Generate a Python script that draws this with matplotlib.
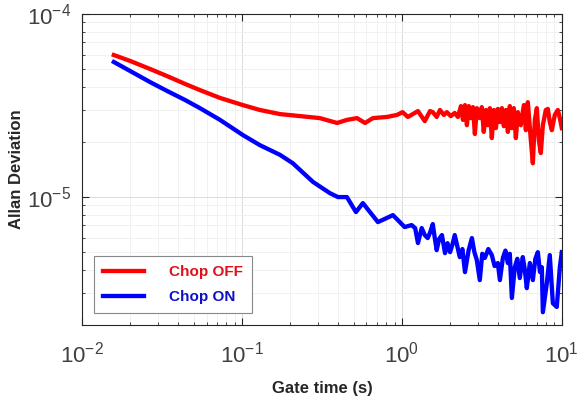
import numpy as np
import matplotlib
matplotlib.use("Agg")
import matplotlib.pyplot as plt
from matplotlib.ticker import LogLocator, NullFormatter

plt.rcParams['font.family'] = ['Liberation Sans', 'DejaVu Sans']
plt.rcParams['mathtext.fontset'] = 'custom'
plt.rcParams['mathtext.rm'] = 'Liberation Sans'
plt.rcParams['mathtext.it'] = 'Liberation Sans:italic'
plt.rcParams['mathtext.bf'] = 'Liberation Sans:bold'

# gate time (s) / Allan deviation
tau_off = [0.0158, 0.0200, 0.0266, 0.034, 0.0441, 0.0546, 0.0729, 0.1014, 0.1296, 0.173,
           0.230, 0.307, 0.393, 0.453, 0.524, 0.588, 0.659, 0.806, 0.931, 1.01,
           1.09, 1.26, 1.39, 1.50, 1.56, 1.65, 1.73, 1.83, 1.91, 2.02,
           2.14, 2.24, 2.34, 2.41, 2.48, 2.55, 2.62, 2.70, 2.78, 2.86,
           2.94, 3.07, 3.16, 3.25, 3.35, 3.45, 3.55, 3.65, 3.76, 3.87,
           3.98, 4.10, 4.22, 4.34, 4.47, 4.60, 4.73, 4.87, 5.01, 5.16,
           5.31, 5.54, 5.79, 5.96, 6.13, 6.40, 6.59, 6.78, 6.98, 7.18,
           7.39, 7.61, 7.94, 8.18, 8.41, 8.66, 9.04, 9.44, 9.72, 10.0]
adev_off = [5.97e-5, 5.54e-5, 5.01e-5, 4.58e-5, 4.15e-5, 3.84e-5, 3.48e-5, 3.18e-5, 2.99e-5, 2.84e-5,
            2.77e-5, 2.70e-5, 2.54e-5, 2.64e-5, 2.70e-5, 2.54e-5, 2.70e-5, 2.74e-5, 2.81e-5, 2.91e-5,
            2.74e-5, 2.95e-5, 2.60e-5, 2.95e-5, 2.91e-5, 2.74e-5, 2.99e-5, 2.81e-5, 2.91e-5, 2.77e-5,
            2.88e-5, 2.74e-5, 3.14e-5, 2.64e-5, 3.18e-5, 2.47e-5, 3.14e-5, 2.70e-5, 3.10e-5, 2.21e-5,
            3.06e-5, 2.70e-5, 3.10e-5, 2.27e-5, 2.99e-5, 2.47e-5, 3.06e-5, 2.10e-5, 2.99e-5, 2.38e-5,
            3.03e-5, 2.57e-5, 3.06e-5, 2.44e-5, 2.99e-5, 2.27e-5, 3.14e-5, 2.38e-5, 3.06e-5, 2.10e-5,
            2.91e-5, 2.47e-5, 3.18e-5, 2.32e-5, 3.30e-5, 2.05e-5, 1.53e-5, 2.64e-5, 3.06e-5, 2.05e-5,
            1.74e-5, 2.47e-5, 2.99e-5, 3.03e-5, 2.57e-5, 2.32e-5, 2.81e-5, 2.99e-5, 2.70e-5, 2.38e-5]

tau_on = [0.0158, 0.0200, 0.0266, 0.034, 0.0441, 0.0546, 0.0729, 0.1014, 0.1296, 0.173,
          0.208, 0.230, 0.278, 0.355, 0.398, 0.453, 0.516, 0.570, 0.708, 0.879,
          1.04, 1.15, 1.21, 1.26, 1.33, 1.39, 1.45, 1.50, 1.56, 1.60,
          1.65, 1.71, 1.78, 1.86, 1.93, 2.00, 2.07, 2.14, 2.22, 2.30,
          2.39, 2.48, 2.61, 2.74, 2.84, 2.94, 3.07, 3.18, 3.30, 3.47,
          3.65, 3.80, 3.98, 4.10, 4.28, 4.44, 4.60, 4.73, 4.87, 5.08,
          5.27, 5.46, 5.70, 5.87, 6.04, 6.31, 6.59, 6.83, 7.08, 7.30,
          7.50, 7.61, 8.06, 8.41, 8.79, 9.30, 9.72, 10.0]
adev_on = [5.47e-5, 4.88e-5, 4.25e-5, 3.80e-5, 3.39e-5, 3.06e-5, 2.64e-5, 2.18e-5, 1.92e-5, 1.70e-5,
           1.53e-5, 1.41e-5, 1.21e-5, 1.05e-5, 1.00e-5, 1.00e-5, 8.28e-6, 9.27e-6, 7.30e-6, 7.97e-6,
           6.86e-6, 7.03e-6, 6.77e-6, 5.61e-6, 6.77e-6, 6.20e-6, 5.97e-6, 6.40e-6, 7.12e-6, 6.10e-6,
           5.13e-6, 5.90e-6, 6.20e-6, 4.94e-6, 5.60e-6, 5.00e-6, 5.50e-6, 6.20e-6, 5.40e-6, 4.70e-6,
           5.20e-6, 3.89e-6, 5.10e-6, 5.97e-6, 5.00e-6, 4.53e-6, 3.52e-6, 4.90e-6, 4.65e-6, 5.20e-6,
           4.82e-6, 4.20e-6, 4.36e-6, 3.52e-6, 4.65e-6, 5.10e-6, 4.36e-6, 4.90e-6, 2.81e-6, 4.14e-6,
           4.60e-6, 3.61e-6, 4.70e-6, 4.00e-6, 3.18e-6, 4.36e-6, 3.52e-6, 4.60e-6, 5.00e-6, 3.90e-6,
           4.14e-6, 2.35e-6, 3.39e-6, 4.82e-6, 2.63e-6, 2.51e-6, 4.14e-6, 5.00e-6]

fig = plt.figure(figsize=(5.78, 4.03), dpi=100)
ax = fig.add_axes([0.142, 0.1935, 0.830, 0.7717])

ax.loglog(tau_off, adev_off, color='#ff0000', lw=3.1, label='Chop OFF')
ax.loglog(tau_on, adev_on, color='#0000ff', lw=3.1, label='Chop ON')

ax.set_xlim(1e-2, 1e1)
ax.set_ylim(2e-6, 1e-4)

ax.xaxis.set_major_locator(LogLocator(base=10, numticks=10))
ax.xaxis.set_minor_locator(LogLocator(base=10, subs=np.arange(2, 10), numticks=20))
ax.yaxis.set_minor_locator(LogLocator(base=10, subs=np.arange(2, 10), numticks=20))
ax.yaxis.set_minor_formatter(NullFormatter())

ax.grid(True, which='major', color='#dcdcdc', lw=0.7)
ax.grid(True, which='minor', color='#efefef', lw=0.6)
ax.set_axisbelow(True)

ax.tick_params(which='both', direction='in', top=True, right=True, colors='#262626')
ax.tick_params(which='major', length=5, labelsize=16, labelcolor='#404040')
ax.tick_params(axis='x', which='major', pad=12)
ax.tick_params(axis='y', which='major', pad=8)
ax.tick_params(which='minor', length=2.5)
for s in ax.spines.values():
    s.set_color('#262626')
    s.set_linewidth(0.8)

ax.set_xlabel('Gate time (s)', fontsize=12, fontweight='bold', color='#262626', labelpad=10)
ax.set_ylabel('Allan Deviation', fontsize=12, fontweight='bold', color='#262626', labelpad=2)

leg = ax.legend(loc='lower left', bbox_to_anchor=(0.025, 0.038), borderaxespad=0,
                fancybox=False, edgecolor='#888888', framealpha=1,
                prop={'size': 11, 'weight': 'bold'}, handlelength=2.7,
                handletextpad=1.6, borderpad=0.6, labelspacing=0.7)
for txt, c in zip(leg.get_texts(), ['#e0101a', '#1010c8']):
    txt.set_color(c)
leg.get_frame().set_linewidth(0.8)

fig.savefig('out.png', dpi=100)
